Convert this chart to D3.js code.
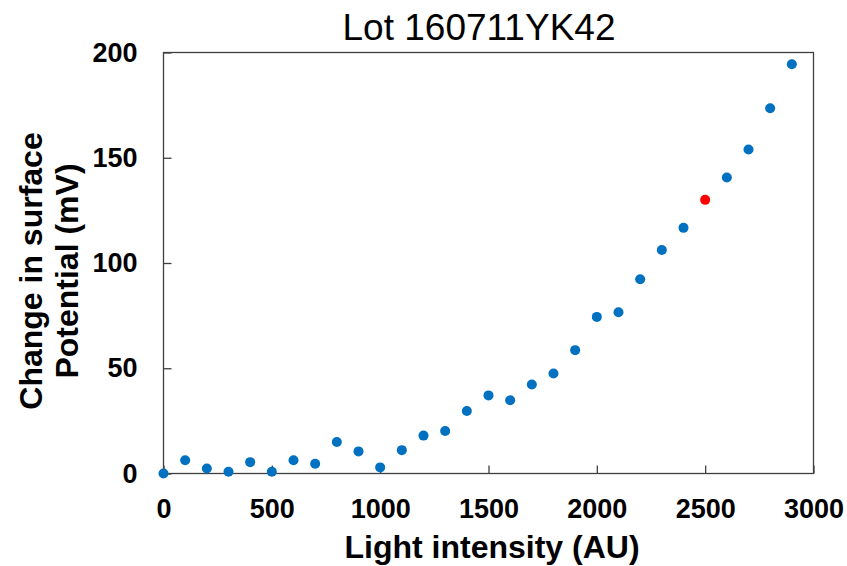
<!DOCTYPE html>
<html>
<head>
<meta charset="utf-8">
<script src="https://cdn.jsdelivr.net/npm/d3@7"></script>
<style>
  body { margin: 0; background: #fff; }
  text { font-family: Arial, "Liberation Sans", sans-serif; }
</style>
</head>
<body>
<div id="chart"></div>
<script>
// data
var lightIntensity = [0, 100, 200, 300, 400, 500, 600, 700, 800, 900,
  1000, 1100, 1200, 1300, 1400, 1500, 1600, 1700, 1800, 1900,
  2000, 2100, 2200, 2300, 2400, 2500, 2600, 2700, 2800, 2900];
var surfaceChange = [0, 6.3, 2.4, 0.8, 5.4, 0.8, 6.3, 4.6, 15, 10.5,
  2.9, 11.1, 18, 20.2, 29.7, 37.1, 34.8, 42.3, 47.5, 58.6,
  74.4, 76.6, 92.3, 106.2, 116.7, 130, 140.6, 153.9, 173.5, 194.4];
var highlightX = 2500;
var xTicks = [0, 500, 1000, 1500, 2000, 2500, 3000];
var yTicks = [0, 50, 100, 150, 200];

var svgWidth = 847;
var svgHeight = 566;

var margin = { top: 52.5, right: 33.5, bottom: 92.5, left: 163.5 };
var width = svgWidth - margin.left - margin.right;
var height = svgHeight - margin.top - margin.bottom;

var svg = d3.select("#chart").append("svg").attr("width", svgWidth).attr("height", svgHeight);
var chartGroup = svg.append("g").attr("transform", `translate(${margin.left}, ${margin.top})`);

var points = lightIntensity.map((x, i) => ({ x: x, y: surfaceChange[i] }));

// scales
var xLinearScale = d3.scaleLinear().domain([0, 3000]).range([0, width]);
var yLinearScale = d3.scaleLinear().domain([0, 200]).range([height, 0]);

// axes, ticks pointing into the plot
var bottomAxis = d3.axisBottom(xLinearScale).tickValues(xTicks).tickFormat(d3.format("d"))
  .tickSizeInner(-8).tickSizeOuter(0).tickPadding(25);
var leftAxis = d3.axisLeft(yLinearScale).tickValues(yTicks).tickFormat(d3.format("d"))
  .tickSizeInner(-8).tickSizeOuter(0).tickPadding(26);

var xAxisG = chartGroup.append("g").attr("transform", `translate(0, ${height})`).call(bottomAxis);
var yAxisG = chartGroup.append("g").call(leftAxis);

[xAxisG, yAxisG].forEach(function(g) {
  g.select(".domain").remove();
  g.selectAll(".tick line").attr("stroke", "#404040").attr("stroke-width", 1.3);
  g.selectAll(".tick text").attr("fill", "#000").style("font-size", "27px").style("font-weight", "bold")
    .style("font-family", "Arial, 'Liberation Sans', sans-serif");
});

// frame
chartGroup.append("rect").attr("x", 0).attr("y", 0).attr("width", width).attr("height", height)
  .attr("fill", "none").attr("stroke", "#404040").attr("stroke-width", 1.3);

// points
chartGroup.selectAll("circle").data(points).enter().append("circle")
  .attr("cx", d => xLinearScale(d.x)).attr("cy", d => yLinearScale(d.y))
  .attr("r", 5).attr("fill", d => d.x === highlightX ? "#FF0000" : "#0070C0");

// title
svg.append("text").attr("x", 479).attr("y", 39.5).attr("text-anchor", "middle")
  .style("font-size", "37px").text("Lot 160711YK42");

// axis labels
svg.append("text").attr("x", 492).attr("y", 558).attr("text-anchor", "middle")
  .style("font-size", "32px").style("font-weight", "bold").text("Light intensity (AU)");

var yLabel = svg.append("text").attr("transform", "translate(0, 271) rotate(-90)")
  .attr("text-anchor", "middle").style("font-size", "32px").style("font-weight", "bold");
yLabel.append("tspan").attr("x", 0).attr("y", 41.5).text("Change in surface");
yLabel.append("tspan").attr("x", 0).attr("y", 78).text("Potential (mV)");
</script>
</body>
</html>
